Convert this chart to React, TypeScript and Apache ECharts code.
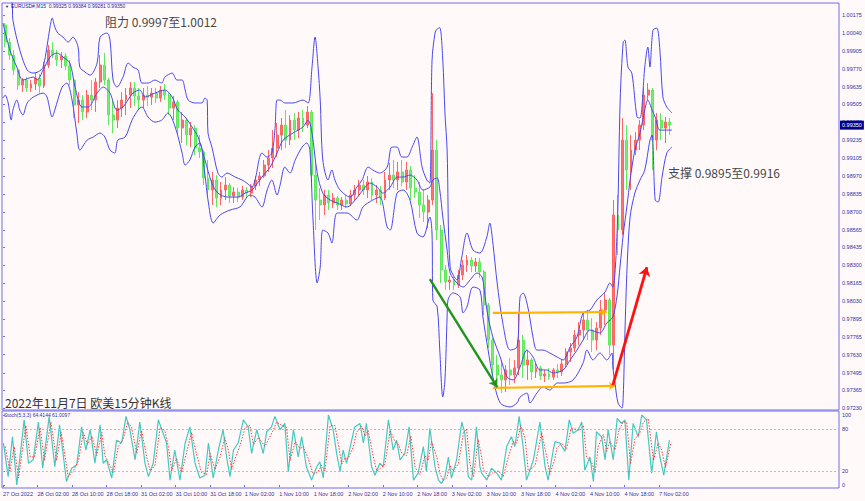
import React, { useEffect, useRef } from 'react';
import * as echarts from 'echarts';

// Hourly bars from 27 Oct 18:00 (index 0): [open, close, low, high]
const OHLC: [number, number, number, number][] = [
  [1.00100, 0.99972, 0.99935, 1.00115], [0.99972, 0.99875, 0.99838, 1.00002], [0.99875, 0.99763, 0.99725, 0.99912],
  [0.99763, 0.99650, 0.99613, 0.99778], [0.99650, 0.99688, 0.99598, 0.99703], [0.99688, 0.99628, 0.99598, 0.99710],
  [0.99628, 0.99658, 0.99598, 0.99688], [0.99658, 0.99703, 0.99613, 0.99748], [0.99703, 0.99643, 0.99590, 0.99733],
  [0.99643, 0.99800, 0.99628, 0.99823], [0.99800, 0.99912, 0.99778, 0.99950], [0.99912, 0.99875, 0.99853, 0.99972],
  [0.99875, 0.99838, 0.99793, 0.99912], [0.99838, 0.99868, 0.99778, 0.99898], [0.99868, 0.99793, 0.99763, 0.99890],
  [0.99793, 0.99688, 0.99650, 0.99838], [0.99688, 0.99501, 0.99403, 0.99703], [0.99501, 0.99538, 0.99366, 0.99598],
  [0.99538, 0.99448, 0.99388, 0.99575], [0.99448, 0.99575, 0.99403, 0.99613], [0.99575, 0.99538, 0.99463, 0.99688],
  [0.99538, 0.99673, 0.99448, 0.99703], [0.99673, 0.99800, 0.99628, 0.99875], [0.99800, 0.99688, 0.99650, 0.99890],
  [0.99688, 0.99426, 0.99351, 0.99703], [0.99426, 0.99388, 0.99291, 0.99538], [0.99388, 0.99478, 0.99328, 0.99538],
  [0.99478, 0.99538, 0.99411, 0.99598], [0.99538, 0.99575, 0.99426, 0.99628], [0.99575, 0.99628, 0.99478, 0.99673],
  [0.99628, 0.99568, 0.99493, 0.99673], [0.99568, 0.99538, 0.99463, 0.99628], [0.99538, 0.99575, 0.99478, 0.99628],
  [0.99575, 0.99560, 0.99493, 0.99643], [0.99560, 0.99590, 0.99501, 0.99628], [0.99590, 0.99553, 0.99516, 0.99628],
  [0.99553, 0.99613, 0.99523, 0.99643], [0.99613, 0.99575, 0.99538, 0.99658], [0.99575, 0.99478, 0.99426, 0.99598],
  [0.99478, 0.99523, 0.99388, 0.99568], [0.99523, 0.99328, 0.99276, 0.99538], [0.99328, 0.99388, 0.99216, 0.99448],
  [0.99388, 0.99276, 0.99201, 0.99403], [0.99276, 0.99328, 0.99186, 0.99373], [0.99328, 0.99178, 0.99126, 0.99351],
  [0.99178, 0.99149, 0.99104, 0.99276], [0.99149, 0.98954, 0.98901, 0.99163], [0.98954, 0.98864, 0.98826, 0.99089],
  [0.98864, 0.98939, 0.98752, 0.98999], [0.98939, 0.98804, 0.98737, 0.98976], [0.98804, 0.98864, 0.98752, 0.98924],
  [0.98864, 0.98901, 0.98789, 0.98961], [0.98901, 0.98819, 0.98767, 0.98916], [0.98819, 0.98849, 0.98767, 0.98886],
  [0.98849, 0.98811, 0.98774, 0.98879], [0.98811, 0.98864, 0.98789, 0.98894], [0.98864, 0.98841, 0.98804, 0.98886],
  [0.98841, 0.98894, 0.98811, 0.98909], [0.98894, 0.98939, 0.98864, 0.98969], [0.98939, 0.98969, 0.98894, 0.98999],
  [0.98969, 0.99051, 0.98954, 0.99089], [0.99051, 0.99104, 0.98999, 0.99163], [0.99104, 0.99178, 0.99029, 0.99313],
  [0.99178, 0.99276, 0.99111, 0.99366], [0.99276, 0.99351, 0.99163, 0.99403], [0.99351, 0.99238, 0.99178, 0.99463],
  [0.99238, 0.99388, 0.99201, 0.99426], [0.99388, 0.99313, 0.99238, 0.99441], [0.99313, 0.99403, 0.99253, 0.99448],
  [0.99403, 0.99351, 0.99298, 0.99463], [0.99351, 0.99448, 0.99328, 0.99493], [0.99448, 0.98976, 0.98886, 0.99463],
  [0.98976, 0.98789, 0.98564, 0.99089], [0.98789, 0.98752, 0.98639, 0.98879], [0.98752, 0.98826, 0.98677, 0.98864],
  [0.98826, 0.98767, 0.98714, 0.98864], [0.98767, 0.98804, 0.98729, 0.98841], [0.98804, 0.98752, 0.98714, 0.98819],
  [0.98752, 0.98789, 0.98714, 0.98811], [0.98789, 0.98759, 0.98729, 0.98826], [0.98759, 0.98826, 0.98744, 0.98864],
  [0.98826, 0.98864, 0.98789, 0.98901], [0.98864, 0.98901, 0.98819, 0.98939], [0.98901, 0.98864, 0.98826, 0.98939],
  [0.98864, 0.98924, 0.98804, 0.98969], [0.98924, 0.98826, 0.98789, 0.98954], [0.98826, 0.98864, 0.98767, 0.98901],
  [0.98864, 0.98804, 0.98752, 0.98894], [0.98804, 0.98939, 0.98789, 0.98999], [0.98939, 0.98976, 0.98864, 0.99066],
  [0.98976, 0.98939, 0.98879, 0.99089], [0.98939, 0.98999, 0.98864, 0.99074], [0.98999, 0.98924, 0.98894, 0.99089],
  [0.98924, 0.99014, 0.98864, 0.99074], [0.99014, 0.98879, 0.98789, 0.99044], [0.98879, 0.98849, 0.98804, 0.98976],
  [0.98849, 0.98752, 0.98654, 0.98924], [0.98752, 0.98699, 0.98624, 0.98864], [0.98699, 0.98789, 0.98579, 0.98826],
  [0.98789, 0.99163, 0.98752, 0.99590], [0.99163, 0.98564, 0.98489, 0.99238], [0.98564, 0.98265, 0.98167, 0.98602],
  [0.98265, 0.98175, 0.98115, 0.98302], [0.98175, 0.98190, 0.98115, 0.98220], [0.98190, 0.98152, 0.98115, 0.98212],
  [0.98152, 0.98227, 0.98130, 0.98265], [0.98227, 0.98302, 0.98190, 0.98340], [0.98302, 0.98340, 0.98250, 0.98377],
  [0.98340, 0.98295, 0.98250, 0.98362], [0.98295, 0.98325, 0.98250, 0.98355], [0.98325, 0.98250, 0.98205, 0.98355],
  [0.98250, 0.98003, 0.97928, 0.98265], [0.98003, 0.97740, 0.97680, 0.98018], [0.97740, 0.97553, 0.97478, 0.97755],
  [0.97553, 0.97478, 0.97403, 0.97628], [0.97478, 0.97441, 0.97343, 0.97591], [0.97441, 0.97516, 0.97351, 0.97553],
  [0.97516, 0.97478, 0.97403, 0.97606], [0.97478, 0.97531, 0.97418, 0.97591], [0.97531, 0.97740, 0.97478, 0.97943],
  [0.97740, 0.97553, 0.97456, 0.97778], [0.97553, 0.97591, 0.97441, 0.97665], [0.97591, 0.97501, 0.97441, 0.97606],
  [0.97501, 0.97531, 0.97456, 0.97568], [0.97531, 0.97471, 0.97441, 0.97546], [0.97471, 0.97486, 0.97426, 0.97516],
  [0.97486, 0.97463, 0.97441, 0.97531], [0.97463, 0.97516, 0.97441, 0.97531], [0.97516, 0.97501, 0.97456, 0.97561],
  [0.97501, 0.97561, 0.97471, 0.97591], [0.97561, 0.97651, 0.97538, 0.97680], [0.97651, 0.97680, 0.97576, 0.97718],
  [0.97680, 0.97778, 0.97651, 0.97815], [0.97778, 0.97815, 0.97703, 0.97875], [0.97815, 0.97890, 0.97740, 0.97950],
  [0.97890, 0.97815, 0.97740, 0.97965], [0.97815, 0.97740, 0.97651, 0.97905], [0.97740, 0.97830, 0.97665, 0.97875],
  [0.97830, 0.97965, 0.97778, 0.98040], [0.97965, 0.98040, 0.97853, 0.98100], [0.98040, 0.97703, 0.97628, 0.98055],
  [0.97703, 0.98677, 0.97516, 0.98789], [0.98677, 0.98564, 0.98377, 0.98826], [0.98564, 0.99238, 0.98527, 0.99403],
  [0.99238, 0.99014, 0.98864, 0.99351], [0.99014, 0.99163, 0.98864, 0.99276], [0.99163, 0.99238, 0.99126, 0.99298],
  [0.99238, 0.99351, 0.99163, 0.99388], [0.99351, 0.99575, 0.99313, 0.99628], [0.99575, 0.99613, 0.99538, 0.99665],
  [0.99613, 0.99238, 0.99014, 0.99628], [0.99238, 0.99388, 0.99163, 0.99441], [0.99388, 0.99328, 0.99238, 0.99441],
  [0.99328, 0.99373, 0.99216, 0.99411], [0.99373, 0.99350, 0.99276, 0.99403],
];

// Bollinger bands: [bar index, price]
const BB_UPPER: [number, number][] = [
  [0, 1.00437], [2.1, 1.00272], [2.3, 1.00137], [3.9, 0.99912], [5.6, 0.99763], [7.0, 0.9974], [8.1, 0.99748],
  [9.3, 0.99785], [10.9, 1.00085], [11.4, 1.00152], [12.0, 1.00085], [12.7, 1.0004], [13.9, 1.0001], [15.1, 0.99972],
  [16.2, 1.0001], [17.4, 0.99935], [17.8, 0.99785], [19.0, 0.99748], [20.2, 0.99725], [21.8, 0.99815], [22.5, 1.0001],
  [24.1, 1.0004], [24.8, 0.99987], [25.5, 0.99688], [26.4, 0.99635], [27.8, 0.9971], [29.0, 0.99815], [30.1, 0.99785],
  [31.3, 0.99763], [32.2, 0.99665], [33.6, 0.99665], [35.2, 0.99688], [36.8, 0.99665], [37.5, 0.9971], [39.2, 0.9974],
  [40.3, 0.99688], [41.5, 0.99688], [42.2, 0.99613], [42.9, 0.99538], [44.5, 0.99516], [46.1, 0.99516], [46.8, 0.99553],
  [47.3, 0.99538], [47.5, 0.99291], [48.4, 0.99186], [49.8, 0.98991], [50.7, 0.98961], [51.9, 0.98991], [53.8, 0.98961],
  [55.4, 0.98939], [56.5, 0.98916], [57.7, 0.98886], [58.4, 0.98939], [60.0, 0.99141], [61.2, 0.99111], [62.3, 0.99141],
  [63.0, 0.99313], [63.5, 0.99538], [64.2, 0.99538], [65.3, 0.99516], [67.2, 0.99516], [69.5, 0.99538], [70.7, 0.99516],
  [71.6, 0.99785], [72.3, 1.0001], [73.0, 0.99785], [73.5, 0.99538], [74.1, 0.99089], [75.3, 0.98939], [76.2, 0.99014],
  [76.9, 0.98939], [78.1, 0.98864], [80.4, 0.98811], [82.0, 0.98886], [83.2, 0.98939], [84.6, 0.99036], [85.7, 0.99014],
  [87.3, 0.98991], [89.0, 0.99036], [90.1, 0.99186], [91.3, 0.99186], [92.4, 0.99111], [93.6, 0.99111], [94.8, 0.99186],
  [95.9, 0.99261], [97.1, 0.99036], [98.2, 0.98939], [98.9, 0.98916], [99.4, 0.9983], [100.1, 1.0004], [100.6, 1.0007],
  [101.2, 1.0008], [101.9, 0.99838], [102.4, 0.99441], [102.9, 0.99163], [103.6, 0.98287], [105.2, 0.9819], [106.3, 0.98362],
  [107.5, 0.98542], [108.9, 0.98414], [110.5, 0.98392], [112.1, 0.98512], [112.8, 0.98617], [113.5, 0.98467], [114.5, 0.98167],
  [115.8, 0.97868], [117.5, 0.97665], [119.1, 0.97688], [119.8, 0.98063], [120.5, 0.98093], [121.6, 0.97988], [122.8, 0.97763],
  [123.7, 0.97665], [125.1, 0.97665], [126.7, 0.97643], [128.4, 0.97613], [129.8, 0.97591], [131.4, 0.97688], [133.0, 0.97763],
  [134.4, 0.97943], [136.0, 0.97965], [137.6, 0.9804], [139.5, 0.981], [140.6, 0.98167], [141.3, 0.98137], [142.3, 0.98564],
  [143.0, 0.99538], [143.7, 0.99972], [144.1, 0.99987], [144.8, 0.99785], [145.7, 0.9974], [146.9, 0.99411], [147.6, 0.99403],
  [148.7, 0.99785], [149.4, 0.99935], [149.9, 0.99785], [150.6, 1.00062], [151.5, 1.00077], [152.2, 0.99912], [152.9, 0.9956],
  [153.8, 0.99486], [155.0, 0.99441],
];

const BB_MID: [number, number][] = [
  [0, 1.00115], [1.6, 0.99912], [3.2, 0.99785], [4.6, 0.99688], [7.0, 0.9971], [7.9, 0.99688], [9.3, 0.99763],
  [10.9, 0.9986], [12.5, 0.9989], [13.9, 0.9986], [15.5, 0.99815], [16.7, 0.99635], [18.3, 0.99486], [19.7, 0.99486],
  [21.8, 0.9959], [23.2, 0.99635], [24.8, 0.9959], [26.4, 0.99463], [27.8, 0.99486], [30.1, 0.9959], [31.7, 0.99613],
  [32.9, 0.9956], [35.2, 0.9959], [37.5, 0.99613], [39.2, 0.9956], [40.5, 0.99463], [42.2, 0.99411], [43.8, 0.99336],
  [45.2, 0.99261], [46.8, 0.99089], [48.4, 0.98916], [49.8, 0.98841], [52.1, 0.98811], [54.4, 0.98811], [56.1, 0.98841],
  [57.7, 0.98864], [60.0, 0.98961], [61.9, 0.99036], [63.5, 0.99141], [64.9, 0.99238], [67.2, 0.99291], [69.5, 0.99336],
  [70.7, 0.99388], [71.6, 0.99291], [72.8, 0.98991], [74.1, 0.98841], [75.8, 0.98789], [77.4, 0.98767], [79.7, 0.98737],
  [81.6, 0.98789], [83.4, 0.98864], [85.0, 0.98916], [86.7, 0.98886], [88.0, 0.98841], [89.7, 0.98886], [91.3, 0.98961],
  [92.7, 0.98961], [94.3, 0.98976], [95.9, 0.98939], [97.3, 0.98864], [98.9, 0.98886], [99.6, 0.98939], [100.6, 0.98954],
  [101.2, 0.98864], [101.9, 0.98662], [102.9, 0.98414], [103.6, 0.98242], [105.2, 0.98167], [106.6, 0.98137], [108.2, 0.9819],
  [109.8, 0.98242], [111.0, 0.98212], [111.7, 0.98063], [112.4, 0.97913], [113.5, 0.97763], [115.2, 0.97613], [116.8, 0.97463],
  [118.2, 0.97441], [119.8, 0.97538], [121.4, 0.97665], [122.8, 0.97613], [124.4, 0.97516], [126.0, 0.97516], [127.4, 0.97493],
  [129.8, 0.97516], [131.4, 0.97591], [133.0, 0.97665], [134.4, 0.9774], [136.0, 0.97815], [138.3, 0.97793], [139.9, 0.97868],
  [141.3, 0.97913], [142.3, 0.98077], [143.0, 0.98302], [143.7, 0.98527], [144.6, 0.98752], [145.3, 0.98939], [146.4, 0.99163],
  [147.6, 0.99291], [148.7, 0.99463], [149.4, 0.99538], [150.4, 0.99463], [151.1, 0.99411], [152.2, 0.99313], [153.8, 0.99313],
  [155.0, 0.99313],
];

const BB_LOWER: [number, number][] = [
  [0, 0.99553], [0.5, 0.99575], [1.2, 0.99516], [1.9, 0.99388], [2.3, 0.99463], [3.2, 0.99538], [3.9, 0.99463],
  [4.6, 0.99426], [5.6, 0.99516], [7.0, 0.9956], [9.3, 0.9959], [10.2, 0.9956], [11.4, 0.99411], [12.0, 0.99463],
  [13.7, 0.99635], [14.8, 0.99665], [16.0, 0.99538], [17.1, 0.99291], [17.8, 0.99163], [19.5, 0.99238], [20.9, 0.99261],
  [22.5, 0.99291], [23.6, 0.99261], [24.8, 0.99163], [25.9, 0.99141], [26.6, 0.99238], [28.3, 0.99261], [29.9, 0.99388],
  [31.3, 0.99463], [32.2, 0.99486], [33.6, 0.99411], [35.2, 0.99373], [36.8, 0.99388], [38.2, 0.99441], [39.9, 0.99336],
  [41.5, 0.99141], [42.2, 0.99051], [43.3, 0.99089], [44.5, 0.99186], [45.6, 0.99216], [46.8, 0.98976], [47.5, 0.98789],
  [48.7, 0.98617], [50.3, 0.98677], [52.6, 0.98714], [54.9, 0.98737], [57.2, 0.98826], [58.4, 0.98811], [60.0, 0.98737],
  [61.2, 0.98864], [62.3, 0.98939], [63.5, 0.98826], [64.2, 0.98901], [65.3, 0.99036], [66.5, 0.98991], [67.7, 0.99089],
  [69.3, 0.99186], [70.4, 0.99216], [71.1, 0.99163], [71.8, 0.98662], [72.8, 0.98167], [73.5, 0.98287], [74.1, 0.98564],
  [75.3, 0.98542], [76.2, 0.98467], [77.4, 0.98692], [79.7, 0.98692], [82.0, 0.98639], [83.4, 0.98737], [85.7, 0.98789],
  [87.3, 0.98811], [89.0, 0.98587], [89.7, 0.98564], [91.3, 0.98841], [92.7, 0.98864], [94.3, 0.98789], [95.9, 0.98542],
  [97.3, 0.98512], [98.9, 0.98662], [99.4, 0.98542], [99.6, 0.9804], [100.6, 0.97988], [101.2, 0.97665], [101.9, 0.97313],
  [102.4, 0.97441], [102.9, 0.97913], [103.1, 0.9804], [104.3, 0.98093], [105.9, 0.98063], [106.6, 0.97943], [107.5, 0.97988],
  [108.9, 0.98137], [110.5, 0.98115], [111.2, 0.97913], [112.4, 0.97665], [113.5, 0.97463], [115.2, 0.97269], [117.5, 0.97239],
  [119.1, 0.97269], [119.8, 0.97313], [121.4, 0.97343], [122.1, 0.97269], [123.7, 0.97343], [125.1, 0.97388], [126.7, 0.97366],
  [128.4, 0.97418], [129.8, 0.97418], [132.1, 0.97441], [134.4, 0.97568], [135.3, 0.97665], [136.7, 0.97591], [138.3, 0.97643],
  [139.9, 0.97591], [141.1, 0.97643], [141.3, 0.97538], [141.8, 0.97418], [142.5, 0.97269], [143.4, 0.97231], [143.7, 0.97313],
  [144.1, 0.97793], [144.6, 0.98287], [145.3, 0.98662], [146.4, 0.98841], [147.6, 0.98939], [148.7, 0.99014], [149.9, 0.99238],
  [150.4, 0.99276], [151.1, 0.98789], [151.8, 0.98774], [152.7, 0.98961], [153.8, 0.99141], [155.0, 0.99186],
];

// Stochastic (5,3,3): [bar index, value]
const STOCH_K: [number, number][] = [
  [0.1, 60], [1.2, 12], [2.2, 69], [3.2, 0], [4.9, 93], [5.9, 31], [7.0, 36], [8.2, 90], [9.2, 24], [10.7, 98],
  [12.0, 26], [13.1, 86], [14.7, 5], [15.9, 24], [17.1, 29], [18.2, 83], [19.2, 50], [20.2, 79], [21.3, 31], [22.5, 86],
  [23.2, 31], [24.0, 36], [25.2, 10], [26.3, 64], [27.5, 60], [28.5, 98], [29.4, 79], [30.6, 36], [31.7, 90], [32.9, 31],
  [33.7, 12], [34.8, 31], [36.0, 93], [37.1, 74], [37.9, 60], [38.7, 7], [39.8, 50], [41.0, 7], [42.2, 60], [43.3, 83],
  [44.5, 31], [45.6, 10], [46.8, 14], [47.6, 60], [48.7, 10], [49.9, 50], [51.0, 79], [51.8, 40], [52.6, 12], [53.4, 50],
  [54.5, 60], [55.7, 93], [56.8, 83], [57.6, 45], [58.8, 79], [60.3, 45], [61.1, 76], [62.2, 83], [63.0, 98], [64.2, 79],
  [65.3, 88], [66.1, 19], [67.3, 79], [68.4, 40], [69.2, 69], [70.3, 26], [71.5, 7], [72.7, 26], [73.4, 33], [74.2, 10],
  [75.4, 100], [76.5, 79], [77.3, 45], [78.1, 19], [78.8, 50], [79.6, 31], [80.8, 64], [81.5, 83], [82.7, 88], [83.5, 60],
  [84.2, 88], [85.4, 26], [86.2, 14], [87.3, 31], [88.1, 26], [89.3, 93], [90.4, 50], [91.2, 64], [92.0, 36], [93.1, 45],
  [94.1, 83], [95.1, 7], [96.2, 17], [97.4, 55], [98.1, 19], [98.9, 81], [100.1, 26], [100.9, 7], [101.6, 2], [102.4, 12],
  [103.2, 40], [103.9, 10], [105.1, 36], [106.3, 90], [107.0, 74], [107.8, 12], [108.6, 7], [109.7, 83], [110.5, 26], [110.9, 17],
  [112.1, 7], [113.2, 24], [114.4, 17], [115.5, 7], [116.7, 55], [117.8, 69], [118.6, 55], [119.6, 98], [120.6, 50], [121.3, 7],
  [122.9, 36], [124.4, 90], [125.6, 26], [126.3, 7], [127.5, 50], [127.9, 62], [129.0, 60], [130.2, 48], [131.2, 93], [132.1, 74],
  [133.3, 79], [134.1, 90], [134.8, 21], [136.0, 40], [136.8, 5], [137.5, 76], [138.7, 69], [139.5, 36], [140.2, 79], [141.4, 36],
  [142.3, 95], [143.3, 88], [144.1, 93], [145.0, 7], [146.0, 88], [147.2, 69], [148.0, 100], [149.1, 93], [150.3, 17], [151.4, 76],
  [152.2, 40], [153.1, 14], [154.4, 64],
];

const STOCH_D: [number, number][] = [
  [0.5, 55], [1.6, 20], [2.6, 55], [3.6, 10], [5.3, 85], [6.3, 40], [7.3, 40], [8.6, 82], [9.6, 35], [11.1, 90],
  [12.4, 35], [13.5, 75], [15.1, 12], [16.3, 20], [17.5, 35], [18.6, 75], [19.6, 58], [20.6, 70], [21.7, 42], [22.9, 75],
  [23.6, 42], [24.4, 32], [25.6, 18], [26.7, 55], [27.8, 65], [28.9, 90], [29.8, 82], [31.0, 45], [32.1, 78], [33.3, 40],
  [34.1, 20], [35.2, 28], [36.4, 82], [37.5, 78], [38.3, 55], [39.1, 20], [40.2, 38], [41.4, 18], [42.6, 48], [43.7, 75],
  [44.9, 42], [46.0, 18], [47.2, 15], [48.0, 45], [49.1, 22], [50.3, 40], [51.4, 68], [52.2, 50], [53.0, 22], [53.8, 38],
  [54.9, 56], [56.1, 82], [57.2, 85], [58.0, 58], [59.2, 68], [60.7, 55], [61.5, 65], [62.6, 78], [63.4, 90], [64.6, 85],
  [65.7, 82], [66.5, 35], [67.7, 62], [68.8, 52], [69.6, 55], [70.7, 38], [71.9, 15], [73.1, 20], [73.8, 28], [74.6, 20],
  [75.8, 85], [76.9, 85], [77.7, 58], [78.5, 30], [79.2, 38], [80.0, 38], [81.2, 55], [81.9, 75], [83.1, 84], [83.9, 70],
  [84.6, 78], [85.8, 40], [86.6, 20], [87.7, 25], [88.5, 30], [89.7, 78], [90.8, 62], [91.6, 58], [92.4, 45], [93.5, 42],
  [94.5, 70], [95.5, 25], [96.6, 15], [97.8, 42], [98.5, 35], [99.3, 62], [100.5, 40], [101.3, 15], [102.0, 6], [102.8, 10],
  [103.6, 28], [104.3, 20], [105.5, 30], [106.7, 75], [107.4, 80], [108.2, 30], [109.0, 12], [110.1, 65], [110.9, 40], [111.3, 22],
  [112.5, 12], [113.6, 18], [114.8, 20], [115.9, 12], [117.1, 40], [118.2, 62], [119.0, 60], [120.0, 85], [121.0, 65], [121.7, 20],
  [123.3, 28], [124.8, 75], [126.0, 40], [126.7, 15], [127.9, 38], [128.3, 52], [129.4, 60], [130.6, 52], [131.6, 80], [132.5, 80],
  [133.7, 78], [134.5, 85], [135.2, 40], [136.4, 32], [137.2, 18], [137.9, 55], [139.1, 72], [139.9, 48], [140.6, 62], [141.8, 50],
  [142.7, 78], [143.7, 90], [144.5, 90], [145.4, 30], [146.4, 65], [147.6, 75], [148.4, 90], [149.5, 95], [150.7, 35], [151.8, 60],
  [152.6, 50], [153.5, 25], [154.8, 61],
];

const PRICE_TICKS = [
  1.00175, 1.0004, 0.99905, 0.9977, 0.99635, 0.99505, 0.9937, 0.99235, 0.99105, 0.9897, 0.98835, 0.987,
  0.98565, 0.98435, 0.983, 0.98165, 0.9803, 0.97895, 0.97765, 0.9763, 0.97495, 0.97365, 0.9723,
];
const STOCH_TICKS = [0, 20, 80, 100];
const STOCH_LEVELS = [20, 80];
const TIME_LABELS = [
  '27 Oct 2022', '28 Oct 02:00', '28 Oct 10:00', '28 Oct 18:00', '31 Oct 02:00', '31 Oct 10:00', '31 Oct 18:00',
  '1 Nov 02:00', '1 Nov 10:00', '1 Nov 18:00', '2 Nov 02:00', '2 Nov 10:00', '2 Nov 18:00', '3 Nov 02:00',
  '3 Nov 10:00', '3 Nov 18:00', '4 Nov 02:00', '4 Nov 10:00', '4 Nov 18:00', '7 Nov 02:00',
];
const TIME_POS = [0, 8, 16, 24, 32, 40, 48, 56, 64, 72, 80, 88, 96, 104, 112, 120, 128, 136, 144, 152];
const LAST_PRICE = 0.9935;

// Drawn annotations in data coordinates [bar index, price]
const ORANGE_TOP: [number, number][] = [[113.5, 0.97943], [139.9, 0.9795]];
const ORANGE_BOTTOM: [number, number][] = [[113.5, 0.97381], [141.8, 0.97396]];
const GREEN_ARROW: [number, number][] = [[98.9, 0.98197], [114.5, 0.97388]];
const RED_ARROW: [number, number][] = [[141.3, 0.97403], [149.2, 0.98287]];

const HEADER = 'EURUSD#,M15  0.99325 0.99384 0.99281 0.99350';
const STOCH_HEADER = 'Stoch(5,3,3) 64.4144 61.0097';
const TEXT_RESIST = '阻力 0.9997至1.0012';
const TEXT_SUPPORT = '支撑 0.9895至0.9916';
const TEXT_TITLE = '2022年11月7日 欧美15分钟K线';

const FRAME = '#6E6EE6';
const AXIS_TEXT = '#3030A8';
const SMALL_FONT = 'Liberation Sans';
const CJK_FONT = '"Noto Sans CJK SC", "Noto Sans", sans-serif';
const X_MIN = -0.23;
const X_MAX = 193.7;

export default function App() {
  const ref = useRef<HTMLDivElement>(null);
  useEffect(() => {
    if (!ref.current) return;
    const chart = echarts.init(ref.current, null, { renderer: 'svg' });
    const candleData = OHLC.map((c, i) => [i + 0.5, c[0], c[1], c[2], c[3]]);
    const arrowSeries = (coords: [number, number][], color: string, width: number, size: number) => ({
      type: 'lines',
      coordinateSystem: 'cartesian2d',
      xAxisIndex: 0,
      yAxisIndex: 0,
      z: 10,
      silent: true,
      symbol: ['none', 'arrow'],
      symbolSize: size,
      lineStyle: { color, width, opacity: 1, curveness: 0 },
      data: [{ coords }],
    });
    const bandLine = (data: [number, number][], extra: any = {}) => ({
      type: 'line', xAxisIndex: 0, yAxisIndex: 0, data, showSymbol: false, smooth: 0.3, z: 3,
      lineStyle: { color: '#4848F0', width: 1 },
      ...extra,
    });
    const option: any = {
      animation: false,
      backgroundColor: '#FFFAF9',
      grid: [
        { left: 2, top: 3, width: 837, height: 407, show: true, borderColor: FRAME, borderWidth: 1, backgroundColor: 'transparent' },
        { left: 2, top: 411, width: 837, height: 77, show: true, borderColor: FRAME, borderWidth: 1, backgroundColor: 'transparent' },
      ],
      xAxis: [
        {
          type: 'value', gridIndex: 0, min: X_MIN, max: X_MAX,
          axisLine: { show: false }, axisTick: { show: false }, axisLabel: { show: false }, splitLine: { show: false },
        },
        {
          type: 'value', gridIndex: 1, min: X_MIN, max: X_MAX,
          axisLine: { show: false },
          axisTick: { show: true, length: 2, customValues: TIME_POS, lineStyle: { color: FRAME } },
          axisLabel: {
            show: true, customValues: TIME_POS, align: 'left', margin: 3,
            fontSize: 5.5, fontFamily: SMALL_FONT, color: AXIS_TEXT,
            formatter: (v: number) => {
              const k = TIME_POS.indexOf(Math.round(v));
              return k >= 0 ? TIME_LABELS[k] : '';
            },
          },
          splitLine: { show: false },
        },
      ],
      yAxis: [
        {
          type: 'value', gridIndex: 0, position: 'right', min: 0.97216, max: 1.00265,
          axisLine: { show: false },
          axisTick: { show: true, length: 2, customValues: PRICE_TICKS, lineStyle: { color: FRAME } },
          axisLabel: {
            show: true, customValues: PRICE_TICKS, margin: 3, fontSize: 5.5, fontFamily: SMALL_FONT, color: AXIS_TEXT,
            formatter: (v: number) => v.toFixed(5),
          },
          splitLine: { show: false },
        },
        {
          type: 'value', gridIndex: 1, position: 'right', min: -4.3, max: 105.7,
          axisLine: { show: false },
          axisTick: { show: true, length: 2, customValues: STOCH_TICKS, lineStyle: { color: FRAME } },
          axisLabel: {
            show: true, customValues: STOCH_TICKS, margin: 3, fontSize: 5.5, fontFamily: SMALL_FONT, color: AXIS_TEXT,
            formatter: (v: number) => String(Math.round(v)),
          },
          splitLine: { show: false },
        },
      ],
      series: [
        bandLine(BB_UPPER),
        bandLine(BB_MID, {
          clip: false,
          markLine: {
            silent: true, symbol: ['none', 'none'], z: 20,
            lineStyle: { color: 'rgba(0,0,0,0)', width: 0, type: 'solid' },
            label: {
              show: true, position: 'end', distance: 1, formatter: LAST_PRICE.toFixed(5), opacity: 1,
              backgroundColor: '#000088', color: '#FFFFFF', fontSize: 5.5, fontFamily: SMALL_FONT, padding: [2, 2, 1, 2],
            },
            data: [[{ coord: [X_MIN, LAST_PRICE] }, { coord: [X_MAX, LAST_PRICE] }]],
          },
        }),
        bandLine(BB_LOWER),
        {
          type: 'candlestick', xAxisIndex: 0, yAxisIndex: 0, data: candleData, barWidth: 2.4, z: 2,
          encode: { x: 0, y: [1, 2, 3, 4] },
          itemStyle: {
            color: '#FF7272', color0: '#72EE72', borderColor: '#FF6464', borderColor0: '#5EE85E', borderWidth: 1,
          },
        },
        {
          type: 'line', xAxisIndex: 1, yAxisIndex: 1, data: STOCH_K, showSymbol: false, z: 4,
          lineStyle: { color: '#44C8C0', width: 1.2 },
          markLine: {
            silent: true, symbol: ['none', 'none'], label: { show: false },
            lineStyle: { color: '#BDBDBD', type: [2, 2], width: 1 },
            data: STOCH_LEVELS.map((v) => [{ coord: [X_MIN, v] }, { coord: [X_MAX, v] }]),
          },
        },
        {
          type: 'line', xAxisIndex: 1, yAxisIndex: 1, data: STOCH_D, showSymbol: false, z: 5,
          lineStyle: { color: '#FF3A3A', width: 1, type: [1.5, 1.5] },
        },
        arrowSeries(ORANGE_TOP, '#FFB400', 2.2, 6),
        arrowSeries(ORANGE_BOTTOM, '#FFB400', 2.2, 6),
        arrowSeries(GREEN_ARROW, '#1E961E', 2.4, 8),
        arrowSeries(RED_ARROW, '#FF1010', 2.8, 9),
      ],
      graphic: [
        { type: 'text', x: 5, y: 6, z: 20, style: { text: '▼', fill: '#101080', font: `4px ${SMALL_FONT}`, verticalAlign: 'middle' } },
        { type: 'text', x: 11, y: 6, z: 20, style: { text: HEADER, fill: '#1A1A9A', font: `5px ${SMALL_FONT}`, verticalAlign: 'middle' } },
        { type: 'text', x: 4, y: 415, z: 20, style: { text: STOCH_HEADER, fill: '#3030B0', font: `5px ${SMALL_FONT}`, verticalAlign: 'middle' } },
        { type: 'text', x: 105, y: 21, z: 20, style: { text: TEXT_RESIST, fill: '#474747', font: `12px ${CJK_FONT}`, verticalAlign: 'middle' } },
        { type: 'text', x: 668, y: 172, z: 20, style: { text: TEXT_SUPPORT, fill: '#474747', font: `12px ${CJK_FONT}`, verticalAlign: 'middle' } },
        { type: 'text', x: 5, y: 402, z: 20, style: { text: TEXT_TITLE, fill: '#333333', font: `12px ${CJK_FONT}`, verticalAlign: 'middle' } },
      ],
    };
    chart.setOption(option);
    return () => chart.dispose();
  }, []);
  return <div ref={ref} style={{ position: 'fixed', left: 0, top: 0, width: 865, height: 501 }} />;
}
